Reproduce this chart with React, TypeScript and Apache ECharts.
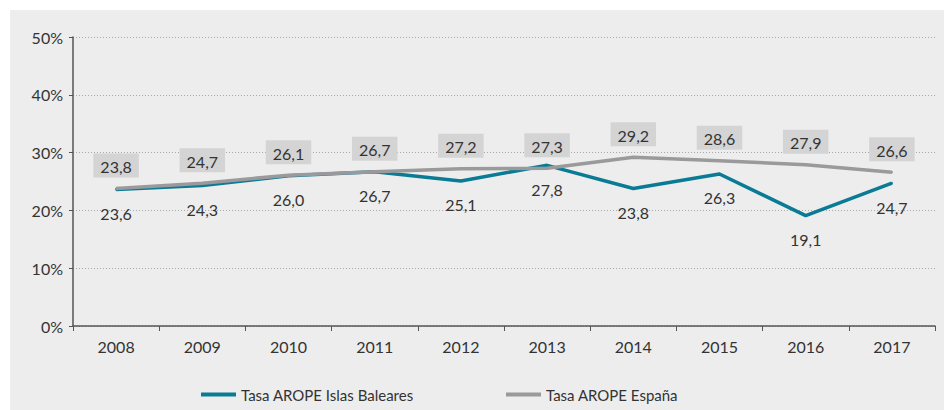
import React, { useEffect, useRef } from "react";
import * as echarts from "echarts";

const years = ["2008", "2009", "2010", "2011", "2012", "2013", "2014", "2015", "2016", "2017"];
const baleares = [23.6, 24.3, 26.0, 26.7, 25.1, 27.8, 23.8, 26.3, 19.1, 24.7];
const espana = [23.8, 24.7, 26.1, 26.7, 27.2, 27.3, 29.2, 28.6, 27.9, 26.6];
const seriesNames = ["Tasa AROPE Islas Baleares", "Tasa AROPE España"];

const FONT = "Lato";
const TEXT = "#333333";
const TEAL = "#0a7b95";
const GREY = "#9a9a9c";

const fmt = (v: number) => v.toFixed(1).replace(".", ",");

export default function App() {
  const ref = useRef<HTMLDivElement>(null);
  useEffect(() => {
    document.body.style.margin = "0";
    const chart = echarts.init(ref.current!, null, { renderer: "svg" });
    chart.setOption({
      animation: false,
      backgroundColor: "#ffffff",
      graphic: [
        {
          type: "rect",
          z: -10,
          silent: true,
          shape: { x: 10, y: 10, width: 934, height: 400 },
          style: { fill: "#ededed" },
        },
      ],
      textStyle: { fontFamily: FONT, color: TEXT },
      grid: { left: 73, right: 10, top: 37, bottom: 84, containLabel: false },
      legend: [
        {
          data: [seriesNames[0]],
          left: 196,
          top: 382,
          icon: "rect",
          itemWidth: 35,
          itemHeight: 4,
          itemGap: 8,
          textStyle: { fontFamily: FONT, fontSize: 15, color: TEXT },
        },
        {
          data: [seriesNames[1]],
          left: 501,
          top: 382,
          icon: "rect",
          itemWidth: 35,
          itemHeight: 4,
          itemGap: 8,
          textStyle: { fontFamily: FONT, fontSize: 15, color: TEXT },
        },
      ],
      xAxis: {
        type: "category",
        data: years,
        boundaryGap: true,
        axisLine: { lineStyle: { color: "#555555", width: 1.5 } },
        axisTick: { show: true, length: 5, lineStyle: { color: "#555555" } },
        axisLabel: { fontFamily: FONT, fontSize: 16, color: TEXT, margin: 12 },
      },
      yAxis: {
        type: "value",
        min: 0,
        max: 50,
        interval: 10,
        axisLine: { show: true, lineStyle: { color: "#555555", width: 1.5 } },
        axisTick: { show: true, length: 4, lineStyle: { color: "#555555" } },
        axisLabel: {
          fontFamily: FONT,
          fontSize: 16,
          color: TEXT,
          margin: 10,
          formatter: (v: number) => `${v}%`,
        },
        splitLine: { show: true, lineStyle: { color: "#a8a8a8", type: [1, 2], width: 1 } },
      },
      series: [
        {
          name: seriesNames[0],
          type: "line",
          data: baleares,
          symbol: "circle",
          symbolSize: 2,
          itemStyle: { color: TEAL },
          lineStyle: { color: TEAL, width: 3.5 },
          label: {
            show: true,
            position: "bottom",
            distance: 15,
            fontFamily: FONT,
            fontSize: 16,
            color: TEXT,
            formatter: (p: any) => fmt(p.value),
          },
          z: 2,
        },
        {
          name: seriesNames[1],
          type: "line",
          data: espana,
          symbol: "circle",
          symbolSize: 2,
          itemStyle: { color: GREY },
          lineStyle: { color: GREY, width: 3.5 },
          label: {
            show: true,
            position: "top",
            distance: 10,
            fontFamily: FONT,
            fontSize: 16,
            color: TEXT,
            backgroundColor: "#d4d4d4",
            padding: [5, 7, 3, 7],
            formatter: (p: any) => fmt(p.value),
          },
          z: 3,
        },
      ],
    });
    return () => chart.dispose();
  }, []);
  return <div ref={ref} style={{ width: 945, height: 410 }} />;
}
